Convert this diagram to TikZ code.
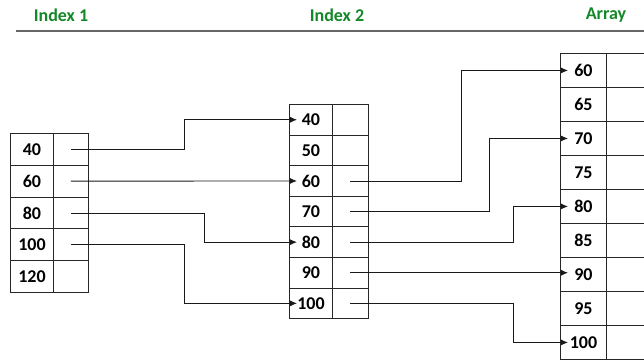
\documentclass[tikz,border=0pt]{standalone}
\usepackage{fontspec}
\setmainfont{Carlito}
\usepackage{xcolor}
\usetikzlibrary{arrows.meta,calc}

\definecolor{hdrgreen}{RGB}{20,135,40}

\begin{document}
\begin{tikzpicture}[x=1pt,y=-1pt,
    cell/.style={draw=black!85,line width=0.9pt,rectangle,inner sep=0pt,anchor=north west,
        font=\fontsize{18}{20}\selectfont\bfseries},
    header/.style={font=\fontsize{18}{20}\selectfont\bfseries,text=hdrgreen},
    link/.style={draw=black!90,line width=0.9pt,-{Latex[length=7pt,width=6pt]}}]
    \useasboundingbox (0,0) rectangle (644,360);

    % headers
    \node[header] (hd1) at (61,15) {Index 1};
    \node[header] (hd2) at (337,15) {Index 2};
    \node[header] (hd3) at (606,15) {Array};
    \draw[black!60,line width=1.2pt] (16,31) -- (644,31);

    % Index 1
    \foreach \v [count=\r from 0] in {40,60,80,100,120} {
        \node[cell,minimum width=43,minimum height=31.8] (ix1-\v) at (10,133+\r*31.8) {\v};
        \node[cell,minimum width=35,minimum height=31.8] (ix1p-\v) at (53,133+\r*31.8) {};
    }
    % Index 2
    \foreach \v [count=\r from 0] in {40,50,...,100} {
        \node[cell,minimum width=43,minimum height=30.6] (ix2-\v) at (289,104+\r*30.6) {\v};
        \node[cell,minimum width=36,minimum height=30.6] (ix2p-\v) at (332,104+\r*30.6) {};
    }
    % Array
    \foreach \v [count=\r from 0] in {60,65,...,100} {
        \node[cell,minimum width=46,minimum height=34] (arr-\v) at (560,53+\r*34) {\v};
        \node[cell,minimum width=46,minimum height=34] (arrp-\v) at (606,53+\r*34) {};
    }

    % bend columns
    \coordinate (bendA) at (184,0);
    \coordinate (bendB) at (204,0);
    \coordinate (bendC) at (461,0);
    \coordinate (bendD) at (489,0);
    \coordinate (bendE) at (513,0);

    % Index 1 -> Index 2
    \draw[link] (ix1p-40.center) -- (ix1p-40.center -| bendA) |- ([xshift=8]ix2-40.west);
    \draw[link] (ix1p-60.center) -- ([xshift=8]ix2-60.west);
    \draw[link] (ix1p-80.center) -- (ix1p-80.center -| bendB) |- ([xshift=8]ix2-80.west);
    \draw[link] (ix1p-100.center) -- (ix1p-100.center -| bendA) |- ([xshift=8]ix2-100.west);

    % Index 2 -> Array
    \draw[link] (ix2p-60.center) -- (ix2p-60.center -| bendC) |- ([xshift=8]arr-60.west);
    \draw[link] (ix2p-70.center) -- (ix2p-70.center -| bendD) |- ([xshift=8]arr-70.west);
    \draw[link] (ix2p-80.center) -- (ix2p-80.center -| bendE) |- ([xshift=8]arr-80.west);
    \draw[link] (ix2p-90.center) -- ($(ix2p-90.center -| arr-90.west)+(8,0)$);
    \draw[link] (ix2p-100.center) -- (ix2p-100.center -| bendE) |- ([xshift=8]arr-100.west);
\end{tikzpicture}
\end{document}
